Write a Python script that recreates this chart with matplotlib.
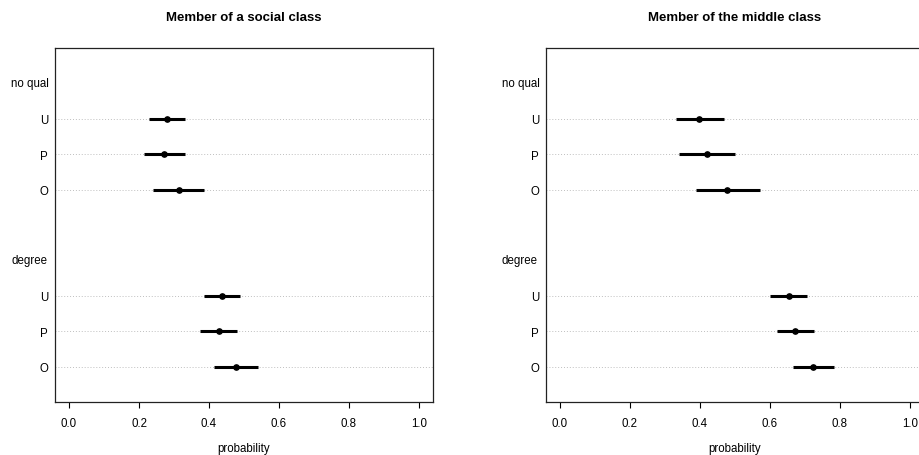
import numpy as np
import matplotlib
matplotlib.use('Agg')
import matplotlib.pyplot as plt

plt.rcParams['font.family'] = ['Liberation Sans', 'DejaVu Sans']

titles = ['Member of a social class', 'Member of the middle class']
groups = ['no qual', 'degree']
items = ['U', 'P', 'O']

# estimates and intervals, order: no qual U,P,O then degree U,P,O
social_est = [0.280, 0.271, 0.314, 0.437, 0.428, 0.477]
social_lo = [0.228, 0.213, 0.241, 0.386, 0.374, 0.415]
social_hi = [0.332, 0.332, 0.387, 0.489, 0.481, 0.539]

middle_est = [0.397, 0.419, 0.478, 0.653, 0.672, 0.723]
middle_lo = [0.330, 0.339, 0.388, 0.601, 0.619, 0.666]
middle_hi = [0.468, 0.499, 0.570, 0.707, 0.727, 0.782]

# dotchart layout: rows from the bottom, group header above its items
item_pos = [8, 7, 6, 3, 2, 1]
group_pos = [9, 4]

fs = 8.3
fig = plt.figure(figsize=(9.19, 4.56), dpi=100)
lefts = [55 / 919, 546 / 919]
panels = [(social_est, social_lo, social_hi), (middle_est, middle_lo, middle_hi)]

for k in range(2):
    ax = fig.add_axes([lefts[k], 53 / 456, 378 / 919, 354 / 456])
    est, lo, hi = panels[k]
    for y in item_pos:
        ax.axhline(y, color='#bfbfbf', lw=0.7, ls=(0, (1, 2)), zorder=1)
    ax.hlines(item_pos, lo, hi, color='black', lw=2.2, zorder=2)
    ax.plot(est, item_pos, 'o', color='black', ms=3.8, zorder=3)
    ax.set_xlim(-0.04, 1.04)
    ax.set_ylim(0, 10)
    ax.set_xticks([0.0, 0.2, 0.4, 0.6, 0.8, 1.0])
    ax.set_xticklabels(['0.0', '0.2', '0.4', '0.6', '0.8', '1.0'])
    ax.set_yticks(item_pos)
    ax.set_yticklabels(items * 2)
    ax.tick_params(axis='y', length=0, pad=5.0, labelsize=fs)
    ax.tick_params(axis='x', direction='out', length=4.5, width=0.8, pad=6.5, labelsize=fs)
    for g, y in zip(groups, group_pos):
        ax.text(-44 / 378, y, g, transform=ax.get_yaxis_transform(),
                ha='left', va='center', fontsize=fs)
    for s in ax.spines.values():
        s.set_linewidth(0.9)
        s.set_color('#222222')
    ax.set_xlabel('probability', fontsize=fs, labelpad=9.5)
    ax.set_title(titles[k], fontsize=9.5, fontweight='bold', pad=20)

fig.savefig('out.png', dpi=100)
